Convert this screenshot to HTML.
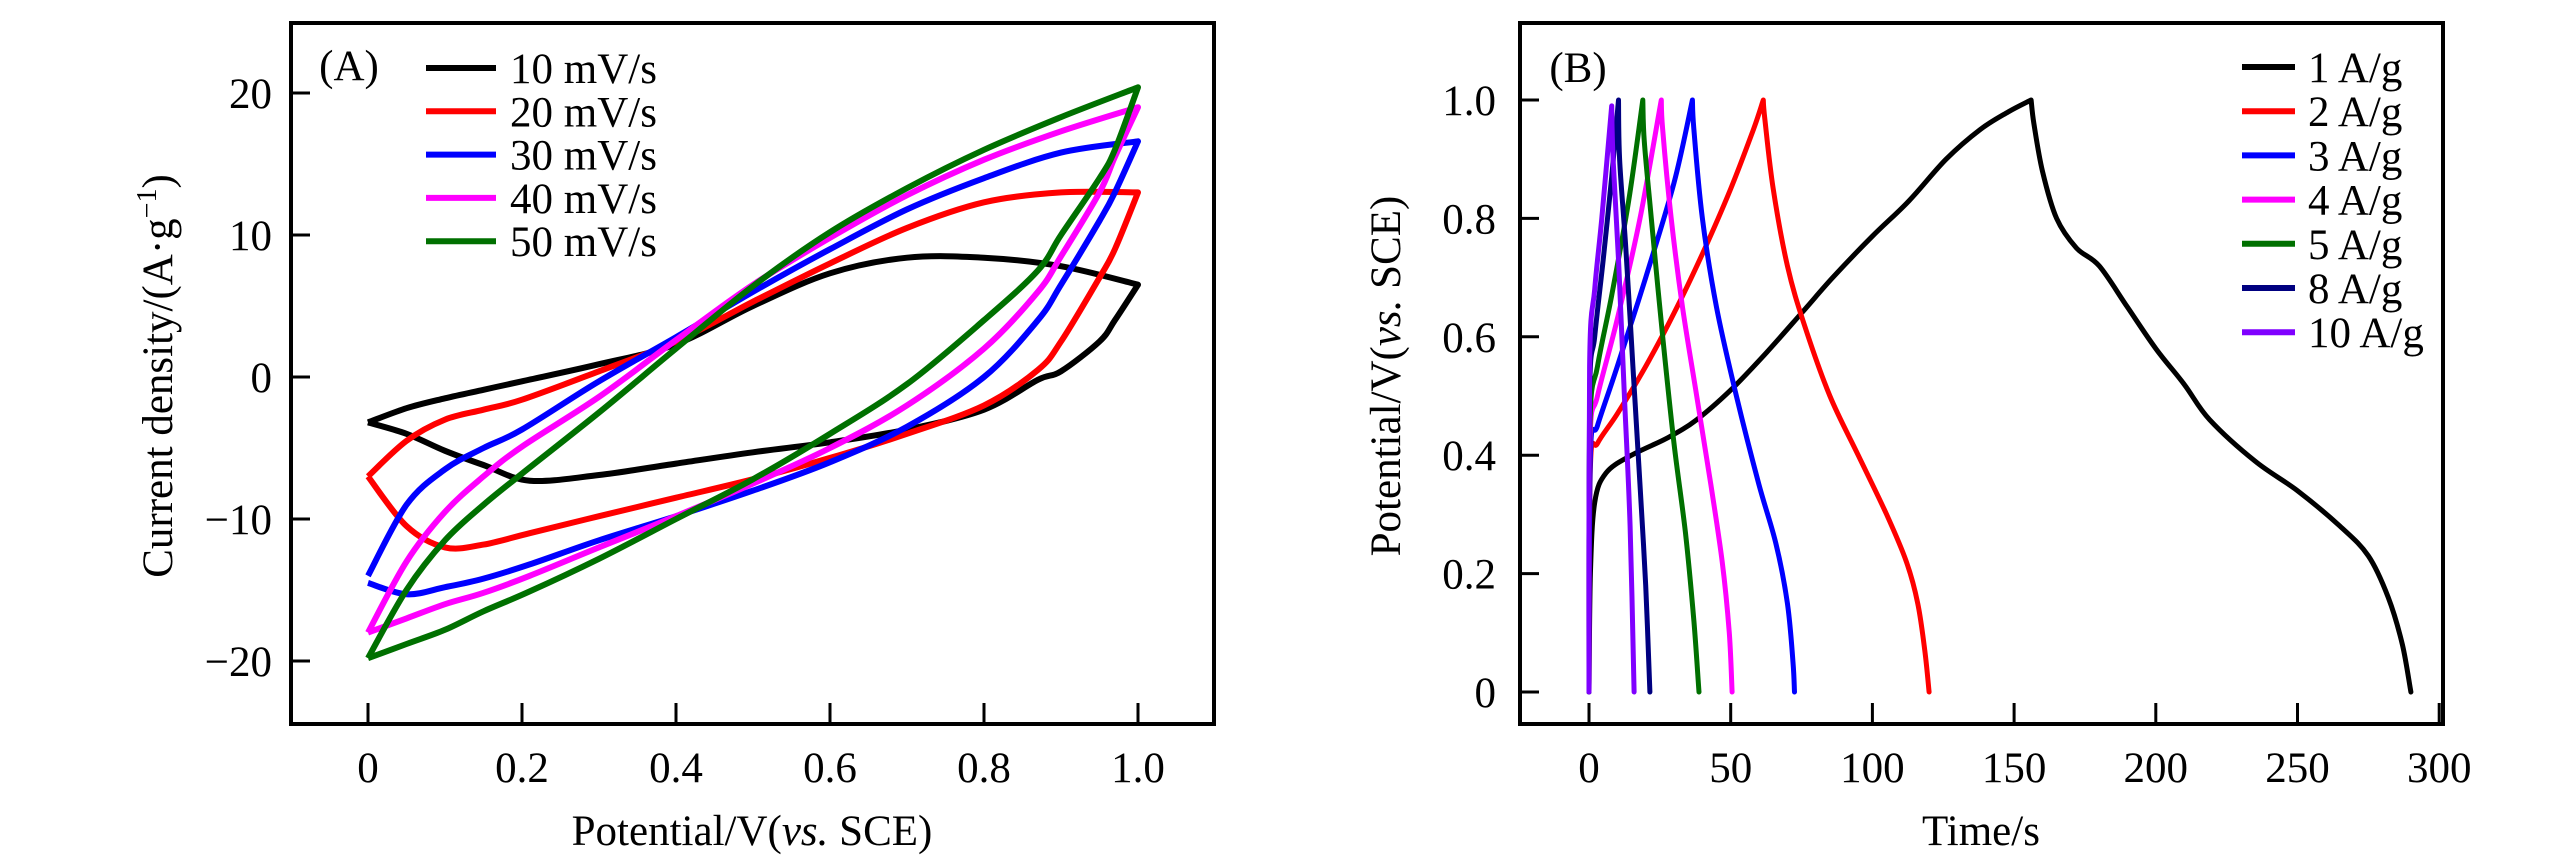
<!DOCTYPE html>
<html><head><meta charset="utf-8"><style>
html,body{margin:0;padding:0;background:#fff;}
svg{display:block;font-family:"Liberation Serif",serif;}
</style></head><body>
<svg id="fig" width="2567" height="866" viewBox="0 0 2567 866" xmlns="http://www.w3.org/2000/svg">
<g id="pa"></g>
<g id="pb"></g>
</svg>
<script>
// ---------- Panel A data (CV) ----------
const cvLabels = ["10 mV/s","20 mV/s","30 mV/s","40 mV/s","50 mV/s"];
const cvColors = ["#000000","#ff0000","#0000ff","#ff00ff","#007000"];
const cvX = [0,0.05,0.1,0.15,0.2,0.3,0.4,0.5,0.6,0.7,0.8,0.9,1.0];
const cvUp10 = [-3.2,-2.2,-1.5,-0.9,-0.3,0.9,2.3,5,7.3,8.4,8.4,7.8,6.5];
const cvUp20 = [-7,-4.5,-3,-2.3,-1.6,0.4,2.5,5.3,8,10.5,12.3,13,13];
const cvUp30 = [-14,-9,-6.5,-5,-3.7,-0.3,2.8,6,9,11.8,14,15.8,16.6];
const cvUp40 = [-18,-13,-9.5,-7,-4.9,-1.4,2.6,6.5,9.8,12.8,15.3,17.3,19];
const cvUp50 = [-19.8,-15,-11.5,-9,-6.8,-2.5,2.0,6.4,10.2,13.3,16,18.3,20.4];
const cvXd = [1.0,0.97,0.95,0.9,0.87,0.8,0.7,0.6,0.5,0.4,0.3,0.21,0.15,0.1,0.05,0];
const cvDn10 = [6.5,4,2.5,0.4,-0.2,-2.3,-3.7,-4.6,-5.3,-6.1,-6.9,-7.3,-6.2,-5.2,-4,-3.2];
const cvDn20 = [13,9,7,2.5,0.5,-2,-4,-5.7,-7.2,-8.5,-9.8,-11,-11.8,-12,-10.5,-7];
const cvDn30 = [16.6,13,11,6.5,4,0,-3.5,-6,-8,-9.8,-11.5,-13.2,-14.2,-14.8,-15.3,-14.5];
const cvDn40 = [19,15.5,13,8.5,6,2,-2,-5,-7.5,-9.8,-12,-14,-15.2,-16,-17,-18];
const cvDn50 = [20.4,16,14,10,7.5,4,-0.5,-4,-7.2,-10,-12.8,-15.1,-16.5,-17.8,-18.8,-19.8];
const cvXTicks = [0,0.2,0.4,0.6,0.8,1.0];
const cvXTickLabels = ["0","0.2","0.4","0.6","0.8","1.0"];
const cvYTicks = [20,10,0,-10,-20];
const cvYTickLabels = ["20","10","0","\u221210","\u221220"];

// ---------- Panel B data (GCD) ----------
const gcdLabels = ["1 A/g","2 A/g","3 A/g","4 A/g","5 A/g","8 A/g","10 A/g"];
const gcdColors = ["#000000","#ff0000","#0000ff","#ff00ff","#007000","#000080","#7f00ff"];
const gcdT1 = [0,0.5,2,6,15,28,38,50,62,75,86,100,113,126,138,148,156,157,160,165,172,180,190,200,210,219,235,250,265,275,282,287,290];
const gcdV1 = [0,0.2,0.32,0.37,0.4,0.43,0.46,0.51,0.57,0.64,0.70,0.77,0.83,0.9,0.95,0.98,1.0,0.96,0.88,0.8,0.75,0.72,0.65,0.58,0.52,0.46,0.39,0.34,0.28,0.23,0.16,0.08,0];
const gcdT2 = [0,0.5,3,10,20,30,40,50,58,61.5,62,65,70,76,85,95,105,112,116,118.5,120];
const gcdV2 = [0,0.38,0.42,0.47,0.55,0.64,0.74,0.85,0.95,1.0,0.97,0.85,0.72,0.62,0.5,0.4,0.3,0.22,0.15,0.07,0];
const gcdT3 = [0,0.5,3,10,20,30,36.5,37,40,45,52,60,66,70,72,72.5];
const gcdV3 = [0,0.4,0.45,0.55,0.7,0.86,1.0,0.95,0.8,0.65,0.5,0.35,0.25,0.15,0.05,0];
const gcdT4 = [0,0.3,3,10,18,25.5,26,29,33,38,43,47,49.5,50.5];
const gcdV4 = [0,0.42,0.5,0.63,0.8,1.0,0.95,0.8,0.65,0.5,0.35,0.22,0.1,0];
const gcdT5 = [0,0.3,3,8,14,19,19.5,22,26,30,34,37,38.8];
const gcdV5 = [0,0.45,0.55,0.67,0.83,1.0,0.93,0.8,0.6,0.42,0.27,0.12,0];
const gcdT8 = [0,0.2,2,5,8,10.4,10.8,13,15.5,18,20,21.5];
const gcdV8 = [0,0.5,0.6,0.73,0.87,1.0,0.9,0.75,0.55,0.35,0.18,0];
const gcdT10 = [0,0.2,2,4.5,8,8.5,10.5,12.5,14.5,15.9];
const gcdV10 = [0,0.55,0.68,0.8,0.99,0.9,0.72,0.5,0.28,0];
const gcdXTicks = [0,50,100,150,200,250,300];
const gcdXTickLabels = ["0","50","100","150","200","250","300"];
const gcdYTicks = [0,0.2,0.4,0.6,0.8,1.0];
const gcdYTickLabels = ["0","0.2","0.4","0.6","0.8","1.0"];

const NS = "http://www.w3.org/2000/svg";
function mk(parent, tag, attrs, text){
  const e = document.createElementNS(NS, tag);
  for (const k in attrs) e.setAttribute(k, attrs[k]);
  if (text !== undefined) e.textContent = text;
  parent.appendChild(e);
  return e;
}
// Catmull-Rom smooth path through pixel points; continues from current point if cont
function smooth(pts, cont){
  let d = cont ? "L"+pts[0][0].toFixed(1)+","+pts[0][1].toFixed(1) : "M"+pts[0][0].toFixed(1)+","+pts[0][1].toFixed(1);
  for (let i=0;i<pts.length-1;i++){
    const p0 = pts[i-1]||pts[i], p1 = pts[i], p2 = pts[i+1], p3 = pts[i+2]||pts[i+1];
    const c1 = [p1[0]+(p2[0]-p0[0])/6, p1[1]+(p2[1]-p0[1])/6];
    const c2 = [p2[0]-(p3[0]-p1[0])/6, p2[1]-(p3[1]-p1[1])/6];
    d += " C"+c1[0].toFixed(1)+","+c1[1].toFixed(1)+" "+c2[0].toFixed(1)+","+c2[1].toFixed(1)+" "+p2[0].toFixed(1)+","+p2[1].toFixed(1);
  }
  return d;
}
function toPts(xs, ys, sx, sy){ return xs.map((x,i)=>[sx(x), sy(ys[i])]); }

// ---------- Panel A ----------
const pa = document.getElementById("pa");
const A = {l:291, r:1214, t:23, b:724};
const ax = v => 368 + v*(1138-368);
const ay = v => 377 - v*14.2;
const cvUp = [cvUp10,cvUp20,cvUp30,cvUp40,cvUp50];
const cvDn = [cvDn10,cvDn20,cvDn30,cvDn40,cvDn50];
for (let i=0;i<cvLabels.length;i++){
  const d = smooth(toPts(cvX, cvUp[i], ax, ay), false) + " " + smooth(toPts(cvXd, cvDn[i], ax, ay), true);
  const p = mk(pa,"path",{d:d,fill:"none",stroke:cvColors[i],"stroke-width":6,"stroke-linejoin":"round"});
  
  
}
const fa = mk(pa,"rect",{x:A.l,y:A.t,width:A.r-A.l,height:A.b-A.t,fill:"none",stroke:"#000","stroke-width":4});


cvXTicks.forEach((v,i)=>{
  const t = mk(pa,"line",{x1:ax(v),x2:ax(v),y1:A.b,y2:A.b-21,stroke:"#000","stroke-width":3});
  
  
  const l = mk(pa,"text",{x:ax(v),y:782,"text-anchor":"middle","font-size":43},cvXTickLabels[i]);
  
  
});
cvYTicks.forEach((v,i)=>{
  const t = mk(pa,"line",{x1:A.l,x2:A.l+19,y1:ay(v),y2:ay(v),stroke:"#000","stroke-width":3});
  
  
  const l = mk(pa,"text",{x:272,y:ay(v)+15,"text-anchor":"end","font-size":43},cvYTickLabels[i]);
  
  
});
const xa = mk(pa,"text",{x:752,y:845,"text-anchor":"middle","font-size":43});
xa.innerHTML = 'Potential/V(<tspan font-style="italic">vs.</tspan> SCE)';


const ya = mk(pa,"text",{x:0,y:0,"text-anchor":"middle","font-size":43,transform:"translate(172,376) rotate(-90)"});
ya.innerHTML = 'Current density/(A\u00b7g<tspan dy="-16" font-size="28">\u22121</tspan><tspan dy="16">)</tspan>';


const la = mk(pa,"text",{x:349,y:80,"text-anchor":"middle","font-size":43},"(A)");


cvLabels.forEach((s,i)=>{
  const y = 68 + i*43.3;
  const ln = mk(pa,"line",{x1:426,x2:496,y1:y,y2:y,stroke:cvColors[i],"stroke-width":6});
  
  
  const tx = mk(pa,"text",{x:510,y:y+15,"font-size":43},s);
  
  
});

// ---------- Panel B ----------
const pb = document.getElementById("pb");
const B = {l:1520, r:2443, t:23, b:724};
const bx = v => 1589 + v*2.834;
const by = v => 692 - v*592;
const gcdT = [gcdT1,gcdT2,gcdT3,gcdT4,gcdT5,gcdT8,gcdT10];
const gcdV = [gcdV1,gcdV2,gcdV3,gcdV4,gcdV5,gcdV8,gcdV10];
for (let i=0;i<gcdLabels.length;i++){
  const V = gcdV[i], T = gcdT[i];
  let k = 0; V.forEach((v,j)=>{ if (v > V[k]) k = j; });
  const d = smooth(toPts(T.slice(0,k+1), V.slice(0,k+1), bx, by), false) + " " +
            smooth(toPts(T.slice(k), V.slice(k), bx, by), true);
  const p = mk(pb,"path",{d:d,fill:"none",stroke:gcdColors[i],"stroke-width":5,"stroke-linejoin":"round","stroke-linecap":"round"});
  
  
}
const fb = mk(pb,"rect",{x:B.l,y:B.t,width:B.r-B.l,height:B.b-B.t,fill:"none",stroke:"#000","stroke-width":4});


gcdXTicks.forEach((v,i)=>{
  const t = mk(pb,"line",{x1:bx(v),x2:bx(v),y1:B.b,y2:B.b-21,stroke:"#000","stroke-width":3});
  
  
  const l = mk(pb,"text",{x:bx(v),y:782,"text-anchor":"middle","font-size":43},gcdXTickLabels[i]);
  
  
});
gcdYTicks.forEach((v,i)=>{
  const t = mk(pb,"line",{x1:B.l,x2:B.l+19,y1:by(v),y2:by(v),stroke:"#000","stroke-width":3});
  
  
  const l = mk(pb,"text",{x:1496,y:by(v)+15,"text-anchor":"end","font-size":43},gcdYTickLabels[i]);
  
  
});
const xb = mk(pb,"text",{x:1981,y:845,"text-anchor":"middle","font-size":43},"Time/s");


const yb = mk(pb,"text",{x:0,y:0,"text-anchor":"middle","font-size":43,transform:"translate(1400,376) rotate(-90)"});
yb.innerHTML = 'Potential/V(<tspan font-style="italic">vs.</tspan> SCE)';


const lb = mk(pb,"text",{x:1578,y:82,"text-anchor":"middle","font-size":43},"(B)");


gcdLabels.forEach((s,i)=>{
  const y = 67 + i*44.2;
  const ln = mk(pb,"line",{x1:2242,x2:2295,y1:y,y2:y,stroke:gcdColors[i],"stroke-width":6});
  
  
  const tx = mk(pb,"text",{x:2308,y:y+15,"font-size":43},s);
  
  
});
</script>
</body></html>
